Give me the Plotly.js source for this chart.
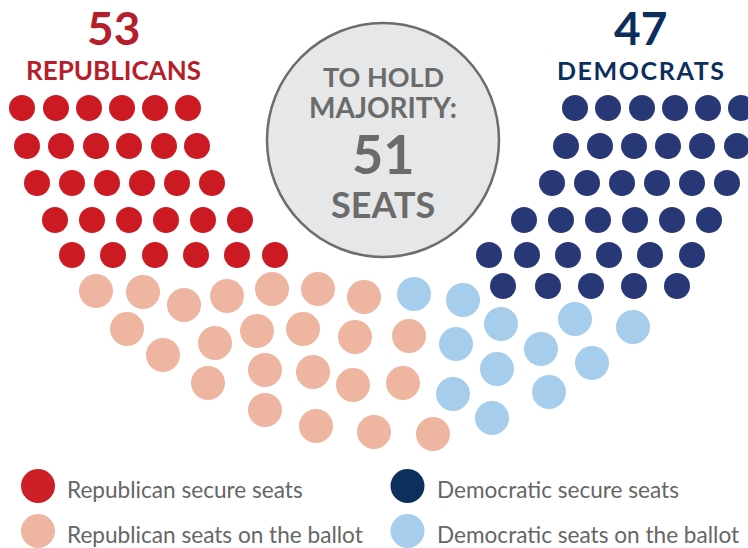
<!DOCTYPE html>
<html>
<head>
<meta charset="utf-8">
<script src="https://cdn.plot.ly/plotly-3.0.1.min.js"></script>
<style>html,body{margin:0;padding:0;background:#fff;}#chart{width:748px;height:548px;}</style>
</head>
<body>
<div id="chart"></div>
<script>
// Seat positions (x, y in the chart's pixel grid)
const repSecureX = [22,56,89,122,155,188, 27,61,96,129,164,197, 37,72,107,142,177,212, 55,92,129,166,203,240, 72,113,155,196,237,275];
const repSecureY = [108,108,108,108,108,108, 146,146,146,146,146,146, 183,183,183,183,183,183, 220,220,220,220,220,220, 255,255,255,255,255,255];
const repBallotX = [96,143,184,227,272,318,364, 127,163,215,257,303,355,409, 208,265,313,353,403, 265,316,374,433];
const repBallotY = [291,292,305,296,289,289,297, 329,355,343,331,329,337,336, 383,370,372,385,383, 410,426,432,434];
const demSecureX = [575,608,642,675,708,741, 566,600,634,668,702,737, 552,587,622,657,692,727, 524,561,598,635,672,709, 489,527,568,609,650,692, 503,548,591,634,677];
const demSecureY = [108,108,108,108,108,108, 146,146,146,146,146,146, 183,183,183,183,183,183, 220,220,220,220,220,220, 255,255,255,255,255,255, 286,286,286,286,286];
const demBallotX = [414,463,501,456,575,633,541,497,592,453,549,492];
const demBallotY = [294,300,324,344,319,327,349,369,363,394,392,418];

const repTotal = "53", demTotal = "47", majority = "51";
const legendLabels = ["Republican secure seats","Republican seats on the ballot","Democratic secure seats","Democratic seats on the ballot"];

const C = {
  red: "#cb1a22", pink: "#eeb5a1", navy: "#283877", lblue: "#a7cdec",
  legRed: "#cc1f27", legNavy: "#0c2f5e",
  repText: "#b51f2b", demText: "#0c2e5c", grey: "#6b6b6b"
};
const FONT = "Lato, 'Source Sans Pro', 'Noto Sans', sans-serif";

function dots(x, y, color, size) {
  return {type: "scatter", mode: "markers", x: x, y: y, hoverinfo: "skip", showlegend: false,
    marker: {color: color, size: size, line: {width: 0}}};
}

// legend swatches
const legX = [38, 38, 407.5, 407.5];
const legY = [486, 531, 486, 531];
const legColors = [C.legRed, C.pink, C.legNavy, C.lblue];

const traces = [
  dots(repSecureX, repSecureY, C.red, 26),
  dots(demSecureX, demSecureY, C.navy, 26),
  dots(repBallotX, repBallotY, C.pink, 34),
  dots(demBallotX, demBallotY, C.lblue, 34),
  {type: "scatter", mode: "markers", x: legX, y: legY, hoverinfo: "skip", showlegend: false,
   marker: {color: legColors, size: 34, line: {width: 0}}}
];

const ann = [];
function txt(text, x, y, size, color, bold, anchor) {
  ann.push({text: bold ? "<b>" + text + "</b>" : text, x: x, y: y, xref: "x", yref: "y",
    showarrow: false, xanchor: anchor || "center", yanchor: "middle",
    font: {family: FONT, size: size, color: color}});
}
txt(repTotal, 113, 27, 46, C.repText, true);
txt("REPUBLICANS", 113, 70, 26, C.repText, true);
txt(demTotal, 640, 27, 46, C.demText, true);
txt("<span style='letter-spacing:1.6px'>DEMOCRATS</span>", 641, 70, 25, C.demText, true);
txt("TO HOLD", 383, 76, 27, C.grey, true);
txt("MAJORITY:", 383, 107, 28, C.grey, true);
txt(majority, 383, 153, 54, C.grey, true);
txt("SEATS", 383, 204, 36, C.grey, true);
const legTextX = [65, 65, 434.5, 434.5];
const legTextY = [489.5, 534.5, 489.5, 534.5];
for (let i = 0; i < 4; i++) {
  txt(legendLabels[i], legTextX[i], legTextY[i], 22.6, "#666666", false, "left");
}

const layout = {
  width: 748, height: 548,
  margin: {l: 0, r: 0, t: 0, b: 0},
  paper_bgcolor: "#ffffff", plot_bgcolor: "#ffffff",
  xaxis: {range: [0, 748], visible: false, fixedrange: true},
  yaxis: {range: [548, 0], visible: false, fixedrange: true},
  shapes: [{type: "circle", xref: "x", yref: "y", x0: 267, x1: 499, y0: 23, y1: 257,
    fillcolor: "#e6e7e9", line: {color: "#6d6d6d", width: 2.5}, layer: "below"}],
  annotations: ann,
  showlegend: false
};

Plotly.newPlot("chart", traces, layout, {staticPlot: true, displayModeBar: false});
</script>
</body>
</html>
